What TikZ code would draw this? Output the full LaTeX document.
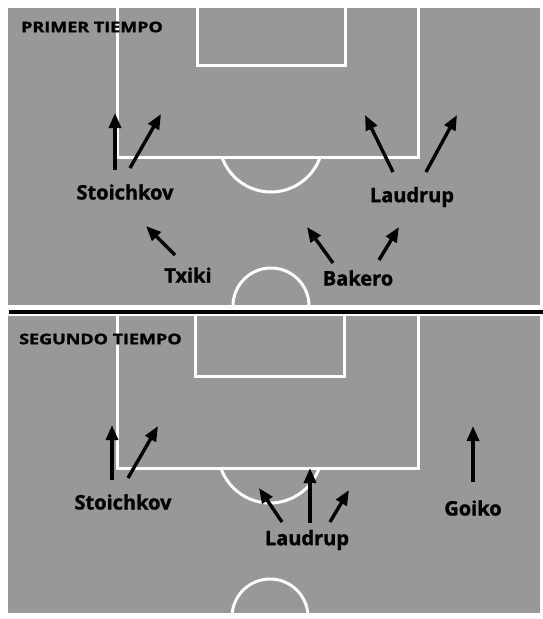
\documentclass[tikz,border=0pt]{standalone}
\usepackage{fontspec}
\setmainfont{Open Sans}
\newfontfamily\heavyfont{Open Sans}[BoldFeatures={FakeBold=1.3}]
\usetikzlibrary{arrows.meta}
\definecolor{pitch}{RGB}{152,152,152}
\tikzset{
  panel/.style={fill=pitch, draw=none},
  pline/.style={draw=white, line width=3pt},
  move/.style={draw=black, line width=3.4pt, -{Triangle[length=15pt,width=12pt]}},
  player/.style={font=\heavyfont\fontsize{20}{20}\selectfont\bfseries, inner sep=0pt, text=black},
  title/.style={font=\heavyfont\fontsize{14.5}{14.5}\selectfont\bfseries, inner sep=0pt, anchor=west, text=black},
}
\begin{document}
\begin{tikzpicture}[x=1pt,y=-1pt]
\useasboundingbox (0,0) rectangle (543,619);
% ---------- top panel ----------
\path[panel] (8,8) rectangle (540,305);
\begin{scope}
  \clip (8,8) rectangle (540,305);
  \draw[pline] (117,6) -- (117,157) -- (418,157) -- (418,6);
  \draw[pline] (197,6) -- (197,65) -- (345,65) -- (345,6);
  \begin{scope}
    \clip (8,157) rectangle (540,305);
    \draw[pline] (271,140) circle[radius=52];
  \end{scope}
  \draw[pline] (271,306) circle[radius=38];
\end{scope}
\node[title] (t1) at (21,27) {\scalebox{1.24}[1]{PRIMER TIEMPO}};
\node[player] (sto1) at (125,192) {Stoichkov};
\node[player] (lau1) at (412,197) {Laudrup};
\node[player] (txi) at (188,275) {Txiki};
\node[player] (bak) at (358,278) {Bakero};
\coordinate (s1a) at (115,170); \coordinate (s1b) at (115,113);
\coordinate (s2a) at (130,168); \coordinate (s2b) at (161,114);
\coordinate (txa) at (175,255); \coordinate (txb) at (146,226);
\coordinate (l1a) at (393,172); \coordinate (l1b) at (365,115);
\coordinate (l2a) at (426,172); \coordinate (l2b) at (457,115);
\coordinate (b1a) at (333,263); \coordinate (b1b) at (307,227);
\coordinate (b2a) at (379,260); \coordinate (b2b) at (399,227);
\draw[move] (s1a) -- (s1b);
\draw[move] (s2a) -- (s2b);
\draw[move] (txa) -- (txb);
\draw[move] (l1a) -- (l1b);
\draw[move] (l2a) -- (l2b);
\draw[move] (b1a) -- (b1b);
\draw[move] (b2a) -- (b2b);
% ---------- divider ----------
\coordinate (dva) at (9,312); \coordinate (dvb) at (543,312);
\draw[line width=3.5pt, black] (dva) -- (dvb);
% ---------- bottom panel ----------
\path[panel] (8,316) rectangle (540,613);
\begin{scope}
  \clip (8,316) rectangle (540,613);
  \draw[pline] (117,314) -- (117,468) -- (418,468) -- (418,314);
  \draw[pline] (195,314) -- (195,376) -- (344,376) -- (344,314);
  \begin{scope}
    \clip (8,468) rectangle (540,613);
    \draw[pline] (270,451) circle[radius=52];
  \end{scope}
  \draw[pline] (270,617) circle[radius=38];
\end{scope}
\node[title] (t2) at (19,339) {\scalebox{1.24}[1]{SEGUNDO TIEMPO}};
\node[player] (sto2) at (123,502) {Stoichkov};
\node[player] (lau2) at (307,540) {Laudrup};
\node[player] (goi) at (473,508) {Goiko};
\coordinate (s3a) at (112,480); \coordinate (s3b) at (112,425);
\coordinate (s4a) at (128,478); \coordinate (s4b) at (158,426);
\coordinate (l3a) at (282,522); \coordinate (l3b) at (259,488);
\coordinate (l4a) at (310,523); \coordinate (l4b) at (310,468);
\coordinate (l5a) at (330,522); \coordinate (l5b) at (349,490);
\coordinate (g1a) at (473,482); \coordinate (g1b) at (473,426);
\draw[move] (s3a) -- (s3b);
\draw[move] (s4a) -- (s4b);
\draw[move] (l3a) -- (l3b);
\draw[move] (l4a) -- (l4b);
\draw[move] (l5a) -- (l5b);
\draw[move] (g1a) -- (g1b);
\end{tikzpicture}
\end{document}
